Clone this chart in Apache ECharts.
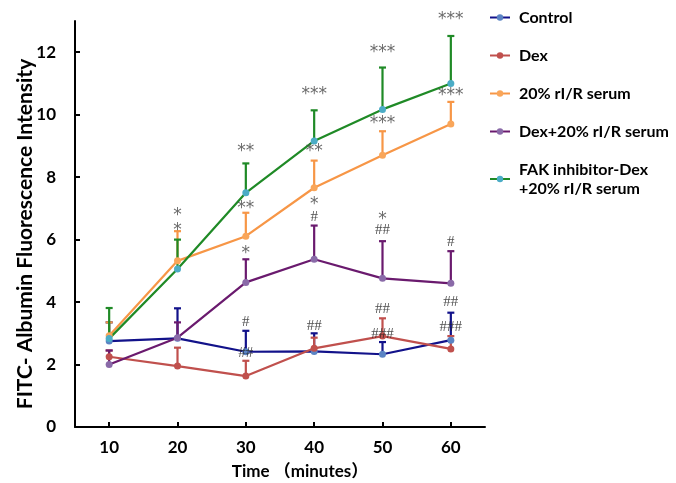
<!DOCTYPE html>
<html>
<head>
<meta charset="utf-8">
<script src="https://cdn.jsdelivr.net/npm/echarts@6/dist/echarts.min.js"></script>
<style>html,body{margin:0;padding:0;background:#fff}#c{width:676px;height:483px}</style>
</head>
<body>
<div id="c"></div>
<script>
const categories = ['10', '20', '30', '40', '50', '60'];
const yTicks = [0, 2, 4, 6, 8, 10, 12];
const seriesNames = ['Control', 'Dex', '20% rI/R serum', 'Dex+20% rI/R serum', 'FAK inhibitor-Dex\n+20% rI/R serum'];

const controlMean = [2.75, 2.84, 2.41, 2.42, 2.33, 2.78];
const controlTop = [3.35, 3.80, 3.08, 3.00, 2.72, 3.66];
const dexMean = [2.25, 1.95, 1.63, 2.52, 2.91, 2.50];
const dexTop = [2.45, 2.54, 2.12, 2.86, 3.48, 2.91];
const serumMean = [2.92, 5.32, 6.11, 7.66, 8.70, 9.70];
const serumTop = [3.35, 6.27, 6.86, 8.53, 9.47, 10.41];
const dexSerumMean = [2.00, 2.86, 4.63, 5.37, 4.76, 4.60];
const dexSerumTop = [2.45, 3.35, 5.37, 6.45, 5.95, 5.63];
const fakMean = [2.83, 5.06, 7.50, 9.16, 10.17, 11.00];
const fakTop = [3.81, 6.00, 8.44, 10.14, 11.51, 12.52];

// significance marks: [category index, value, text]
const annotations = [
  [1, 6.85, '*'], [1, 6.37, '*'],
  [2, 8.90, '**'], [2, 7.10, '**'], [2, 5.66, '*'], [2, 3.37, '#'], [2, 2.38, '##'],
  [3, 10.73, '***'], [3, 8.90, '**'], [3, 7.23, '*'], [3, 6.73, '#'], [3, 3.24, '##'],
  [4, 12.09, '***'], [4, 9.82, '***'], [4, 6.73, '*'], [4, 6.30, '##'], [4, 3.77, '##'], [4, 2.97, '###'],
  [5, 13.15, '***'], [5, 10.71, '***'], [5, 5.93, '#'], [5, 4.01, '##'], [5, 3.19, '###']
];

const means = [controlMean, dexMean, serumMean, dexSerumMean, fakMean];
const tops = [controlTop, dexTop, serumTop, dexSerumTop, fakTop];
const lineColors = ['#12128a', '#c0504d', '#f79646', '#6a1a6e', '#1f8a26'];
const markerColors = ['#5b84c4', '#c0504d', '#f9a65a', '#8a6aa8', '#4bacc6'];

const FONT = 'Lato, "Noto Sans CJK SC", sans-serif';
const series = [];
means.forEach((m, i) => {
  series.push({
    type: 'custom',
    data: m.map((v, k) => [k, v, tops[i][k]]),
    encode: { x: 0, y: [1, 2] },
    z: 2,
    silent: true,
    renderItem: function (params, api) {
      const p0 = api.coord([api.value(0), api.value(1)]);
      const p1 = api.coord([api.value(0), api.value(2)]);
      const st = { stroke: lineColors[i], lineWidth: 2.2 };
      return {
        type: 'group',
        children: [
          { type: 'line', shape: { x1: p0[0], y1: p0[1], x2: p1[0], y2: p1[1] }, style: st },
          { type: 'line', shape: { x1: p1[0] - 3.5, y1: p1[1], x2: p1[0] + 3.5, y2: p1[1] }, style: st }
        ]
      };
    }
  });
  series.push({
    type: 'line',
    name: seriesNames[i],
    data: m,
    symbol: 'circle',
    symbolSize: 7,
    z: 3,
    color: lineColors[i],
    lineStyle: { color: lineColors[i], width: 2.2 },
    itemStyle: { color: markerColors[i] }
  });
});

series.push({
  type: 'scatter',
  clip: false,
  symbolSize: 0,
  z: 5,
  silent: true,
  data: annotations.map(a => {
    const star = a[2].indexOf('*') >= 0;
    return {
      value: [a[0], a[1]],
      label: {
        show: true,
        position: 'inside',
        formatter: a[2],
        fontFamily: star ? 'DejaVu Sans' : 'Liberation Serif',
        fontSize: star ? 17 : 15,
        color: star ? '#444' : '#222',
        offset: star ? [0, 3] : [0, 0]
      }
    };
  })
});

const chart = echarts.init(document.getElementById('c'));
chart.setOption({
  animation: false,
  backgroundColor: '#fff',
  grid: { left: 75, right: 191, top: 21, bottom: 56, containLabel: false, outerBoundsMode: 'none' },
  legend: {
    orient: 'vertical',
    left: 484,
    top: 3,
    itemWidth: 20,
    itemHeight: 8,
    itemGap: 19,
    data: seriesNames,
    textStyle: { fontFamily: FONT, fontWeight: 'bold', fontSize: 16, color: '#000', lineHeight: 19, padding: [0, 0, 0, 4] }
  },
  xAxis: {
    type: 'category',
    data: categories,
    boundaryGap: true,
    name: 'Time （minutes）',
    nameLocation: 'middle',
    nameGap: 36,
    nameMoveOverlap: false,
    nameTextStyle: { fontFamily: FONT, fontWeight: 'bold', fontSize: 17, color: '#000', padding: [0, 0, 0, 40] },
    axisLine: { lineStyle: { color: '#000', width: 2 } },
    axisTick: { show: true, alignWithLabel: true, inside: true, length: 5, lineStyle: { color: '#000', width: 2 } },
    axisLabel: { fontFamily: FONT, fontWeight: 'bold', fontSize: 17, color: '#000', margin: 12 },
    splitLine: { show: false }
  },
  yAxis: {
    type: 'value',
    min: 0,
    max: 13,
    interval: 2,
    name: 'FITC- Albumin Fluorescence Intensity',
    nameLocation: 'middle',
    nameGap: 39,
    nameMoveOverlap: false,
    nameTextStyle: { fontFamily: FONT, fontWeight: 'bold', fontSize: 21, color: '#000', padding: [0, 20, 0, 0] },
    axisLine: { show: true, lineStyle: { color: '#000', width: 2 } },
    axisTick: { show: true, inside: true, length: 5, customValues: yTicks, lineStyle: { color: '#000', width: 2 } },
    axisLabel: { fontFamily: FONT, fontWeight: 'bold', fontSize: 17, color: '#000', margin: 19, customValues: yTicks },
    splitLine: { show: false }
  },
  series: series
});
</script>
</body>
</html>
